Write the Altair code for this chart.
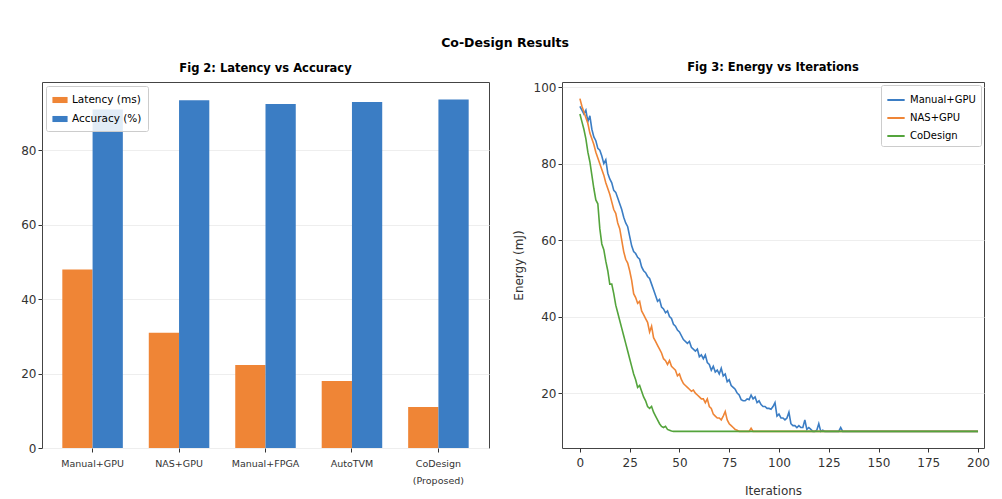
import altair as alt
import pandas as pd

# ---------------- data ----------------
methods = ["Manual+GPU", "NAS+GPU", "Manual+FPGA", "AutoTVM", "CoDesign\n(Proposed)"]
latency = [48.0, 31.0, 22.3, 18.0, 11.0]
accuracy = [91.0, 93.5, 92.5, 93.0, 93.7]
bar_series = ["Latency (ms)", "Accuracy (%)"]

manual_x = [0, 1, 2, 3, 4, 5, 6, 7, 8, 9, 10, 11, 12, 13, 14, 15, 16, 17, 18, 19, 20,
            21, 22, 23, 24, 25, 26, 27, 28, 29, 30, 31, 32, 33, 34, 35, 36, 37, 38, 39, 40,
            41, 42, 43, 44, 45, 46, 47, 48, 49, 50, 52, 54, 55, 56, 58, 59, 60, 61, 62, 63,
            64, 65, 66, 67, 68, 69, 70, 71, 72, 73, 74, 75, 76, 77, 78, 79, 80, 81, 82, 83,
            84, 85, 86, 87, 88, 89, 90, 91, 92, 93, 94, 95, 96, 97, 98, 99, 100, 101, 102, 103,
            104, 105, 106, 107, 108, 109, 110, 111, 112, 113, 114, 115, 116, 117, 118, 119, 120,
            121, 122, 123, 126, 130, 131, 132, 200]
manual_y = [95, 94, 93, 94, 91, 92.5, 89, 87, 86, 84, 83.5, 82, 80, 81, 77.5, 76, 75, 73, 72.5, 71, 69.5,
            68, 66, 64.5, 63.5, 61, 58.5, 57, 56.5, 55.5, 55, 53, 52, 51.5, 50.5, 50, 48.5, 47, 45.5, 44, 44.5,
            42.5, 42, 41, 41.5, 40, 39.5, 38, 37.5, 36.5, 36, 34, 33, 33.5, 32, 31, 31.5, 29.5, 30, 29, 30,
            28, 27.5, 26, 27, 25.5, 26, 25, 26.5, 24.5, 25, 23, 23.5, 22, 21.5, 21, 20, 19.5, 18.3, 18, 18,
            18.5, 18.3, 19.5, 18.5, 19, 17.5, 18, 17, 16.5, 16.5, 16, 16, 15.8, 16.5, 17.5, 14, 14.5, 13.5, 13.5, 13,
            13.5, 15, 12, 11.5, 11.5, 11, 11.5, 11, 11, 13, 10.5, 11, 10.5, 10, 10, 10.3, 12,
            10, 10.3, 10, 10, 10, 11, 10, 10]

nas_x = [0, 1, 2, 3, 4, 5, 6, 7, 8, 9, 10, 11, 12, 13, 14, 15, 16, 17, 18, 19, 20,
         21, 22, 23, 24, 25, 26, 27, 28, 29, 30, 31, 32, 33, 34, 35, 36, 37, 38, 39, 40,
         41, 42, 43, 44, 45, 46, 47, 48, 49, 50, 51, 52, 53, 54, 55, 56, 57, 58, 59, 60,
         61, 62, 63, 64, 65, 66, 67, 68, 69, 70, 71, 72, 73, 74, 75, 76, 77, 78, 79, 80,
         85, 86, 87, 200]
nas_y = [97, 95, 93.5, 92, 90.5, 88, 86.5, 85, 83, 81.5, 80, 78.5, 77, 75, 73.5, 72, 70, 68, 67, 64.5, 63,
         60, 57, 55, 54, 52, 49.5, 46, 45, 43.5, 44, 41.5, 40.5, 39.5, 38.5, 36, 37.5, 34.5, 33.5, 32.5, 31.5,
         30.5, 29, 28.5, 27.5, 28.5, 27, 26.5, 26, 24.5, 25, 23.5, 22.5, 22, 21.5, 21, 20.5, 20.8, 20, 19.5, 19,
         18.5, 18.5, 17.5, 18.5, 16.5, 16, 14.5, 14, 13.5, 13.5, 13, 14, 15.2, 13, 12, 11.5, 11, 10.5, 10.3, 10,
         10, 10.8, 10, 10]

co_x = [0, 1, 2, 3, 4, 5, 6, 7, 8, 9, 10, 11, 12, 13, 14, 15, 16, 17, 18, 19, 20,
        21, 22, 23, 24, 25, 26, 27, 28, 29, 30, 31, 32, 33, 34, 35, 36, 37, 38, 39, 40,
        41, 42, 43, 44, 45, 46, 47, 200]
co_y = [93, 91, 89, 86.5, 83, 80.5, 77, 73.5, 70.5, 69.5, 63, 59, 57.5, 54.5, 52, 48.5, 48.5, 46, 43, 41, 39,
        37, 35, 33, 31, 29, 27, 25, 23.5, 21.5, 22, 20.5, 19, 18, 16.5, 16, 16.5, 15, 14, 13, 12,
        11.3, 11, 11.3, 10.5, 10.3, 10.1, 10, 10]

line_series = ["Manual+GPU", "NAS+GPU", "CoDesign"]

# ---------------- tables ----------------
bars = pd.DataFrame({
    "method": methods * 2,
    "series": [bar_series[0]] * len(methods) + [bar_series[1]] * len(methods),
    "value": latency + accuracy,
})

lines = pd.concat([
    pd.DataFrame({"iter": manual_x, "energy": manual_y, "series": line_series[0]}),
    pd.DataFrame({"iter": nas_x, "energy": nas_y, "series": line_series[1]}),
    pd.DataFrame({"iter": co_x, "energy": co_y, "series": line_series[2]}),
], ignore_index=True)

FONT = "DejaVu Sans"
ORANGE = "#ef8536"
BLUE = "#3b7dc4"
GREEN = "#54a43c"

left = alt.Chart(bars).mark_bar().encode(
    x=alt.X("method:N", sort=methods, title=None,
            scale=alt.Scale(paddingInner=0.3, paddingOuter=0.235),
            axis=alt.Axis(labelAngle=0, labelFontSize=9.5, labelExpr="split(datum.label, '\\n')",
                          labelColor="#333", tickColor="#333", domain=False, grid=False,
                          labelPadding=6, labelLineHeight=17, tickSize=4)),
    xOffset=alt.XOffset("series:N", sort=bar_series, scale=alt.Scale(paddingInner=0, paddingOuter=0)),
    y=alt.Y("value:Q", title=None, scale=alt.Scale(domain=[0, 98.4], nice=False),
            axis=alt.Axis(values=[0, 20, 40, 60, 80], labelFontSize=12, labelColor="#333",
                          tickColor="#333", domain=False, gridColor="#eeeeee", tickSize=4)),
    color=alt.Color("series:N", sort=bar_series,
                    scale=alt.Scale(domain=bar_series, range=[ORANGE, BLUE]),
                    legend=alt.Legend(title=None, orient="top-left", offset=4,
                                      fillColor="rgba(255,255,255,0.85)", strokeColor="#ccc",
                                      padding=6, labelFontSize=10.5, rowPadding=5,
                                      symbolType="M-1,-0.4H1V0.4H-1Z", symbolSize=230,
                                      symbolStrokeWidth=0, cornerRadius=2)),
).properties(width=447, height=366,
             title=alt.TitleParams("Fig 2: Latency vs Accuracy", fontSize=11.5, fontWeight="bold",
                                   font=FONT, offset=8))

right = alt.Chart(lines).mark_line(strokeWidth=1.6).encode(
    x=alt.X("iter:Q", title="Iterations", scale=alt.Scale(domain=[-9, 203], nice=False),
            axis=alt.Axis(values=[0, 25, 50, 75, 100, 125, 150, 175, 200], labelFontSize=12,
                          labelColor="#333", tickColor="#333", domain=False, grid=False,
                          titleFontSize=12, titleFontWeight="normal", titleColor="#333",
                          labelPadding=5, titlePadding=17, tickSize=4)),
    y=alt.Y("energy:Q", title="Energy (mJ)", scale=alt.Scale(domain=[5.65, 101.35], nice=False),
            axis=alt.Axis(values=[20, 40, 60, 80, 100], labelFontSize=12, labelColor="#333",
                          tickColor="#333", domain=False, gridColor="#eeeeee", titleFontSize=12,
                          titleFontWeight="normal", titleColor="#333", titlePadding=8, tickSize=4)),
    color=alt.Color("series:N", sort=line_series,
                    scale=alt.Scale(domain=line_series, range=[BLUE, ORANGE, GREEN]),
                    legend=alt.Legend(title=None, orient="top-right", offset=3,
                                      fillColor="rgba(255,255,255,0.85)", strokeColor="#ccc",
                                      padding=5, labelFontSize=10, rowPadding=3,
                                      symbolType="stroke", symbolStrokeWidth=2, symbolSize=300,
                                      cornerRadius=2)),
    order="iter:Q",
).properties(width=422, height=366,
             title=alt.TitleParams("Fig 3: Energy vs Iterations", fontSize=11.5, fontWeight="bold",
                                   font=FONT, offset=8))

chart = alt.hconcat(left, right, spacing=21).resolve_scale(color="independent").resolve_legend(
    color="independent"
).properties(
    title=alt.TitleParams("Co-Design Results", fontSize=12.5, fontWeight="bold", anchor="middle",
                          font=FONT, offset=12),
    padding={"left": 12, "top": 28, "right": 0, "bottom": 0},
).configure(font=FONT).configure_view(stroke="#444", strokeWidth=1)

chart.save("out.html", embed_options={"renderer": "svg", "actions": False})
